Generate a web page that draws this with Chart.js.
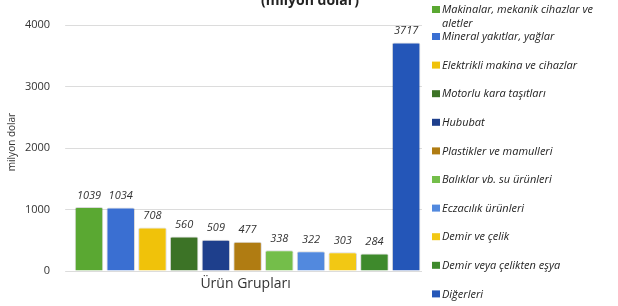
<!DOCTYPE html>
<html>
<head>
<meta charset="utf-8">
<script src="https://cdn.jsdelivr.net/npm/chart.js@4"></script>
<style>
  html, body { margin: 0; padding: 0; background: #fff; }
  #wrap { position: relative; width: 618px; height: 306px; }
</style>
</head>
<body>
<div id="wrap"><canvas id="chart" width="618" height="306"></canvas></div>
<script>
// DATA
const categories = [
  ["Makinalar, mekanik cihazlar ve", "aletler"],
  "Mineral yakıtlar, yağlar",
  "Elektrikli makina ve cihazlar",
  "Motorlu kara taşıtları",
  "Hububat",
  "Plastikler ve mamulleri",
  "Balıklar vb. su ürünleri",
  "Eczacılık ürünleri",
  "Demir ve çelik",
  "Demir veya çelikten eşya",
  "Diğerleri"
];
const values = [1039, 1034, 708, 560, 509, 477, 338, 322, 303, 284, 3717];
const yTicks = [0, 1000, 2000, 3000, 4000];
const barColors = [
  "#5aa832", "#3a6fd2", "#f0c20a", "#3c7326", "#1e3f8c", "#b07c12",
  "#74be4a", "#5289de", "#f2c814", "#3e8a2c", "#2456b8"
];

const FONT = "'Open Sans', 'DejaVu Sans', sans-serif";

// value labels above bars
const valueLabels = {
  id: "valueLabels",
  afterDatasetsDraw(chart) {
    const ctx = chart.ctx;
    const meta = chart.getDatasetMeta(0);
    ctx.save();
    ctx.font = "italic 11px " + FONT;
    ctx.fillStyle = "#333";
    ctx.textAlign = "center";
    ctx.textBaseline = "bottom";
    meta.data.forEach((bar, i) => {
      ctx.fillText(values[i], bar.x, bar.y - 6);
    });
    ctx.restore();
  }
};

// titles + right side legend
const sideLegend = {
  id: "sideLegend",
  afterDraw(chart) {
    const ctx = chart.ctx;
    const area = chart.chartArea;
    ctx.save();
    ctx.font = "bold 14px " + FONT;
    ctx.fillStyle = "#222";
    ctx.textAlign = "center";
    ctx.textBaseline = "alphabetic";
    ctx.fillText("(milyon dolar)", 310, 5);

    ctx.font = "14px " + FONT;
    ctx.fillStyle = "#333";
    ctx.textBaseline = "middle";
    ctx.fillText("Ürün Grupları", (area.left + area.right) / 2 - 2, 284);

    // y axis title
    ctx.save();
    ctx.translate(12, 142);
    ctx.rotate(-Math.PI / 2);
    ctx.font = "10px " + FONT;
    ctx.fillText("milyon dolar", 0, 0);
    ctx.restore();

    ctx.font = "italic 11px " + FONT;
    ctx.textAlign = "left";
    ctx.textBaseline = "middle";
    categories.forEach((c, i) => {
      const y = i === 0 ? 10 : 37 + (i - 1) * 28.6;
      ctx.fillStyle = barColors[i];
      ctx.fillRect(432, y - 4, 8, 7);
      ctx.fillStyle = "#222";
      const lines = Array.isArray(c) ? c : [c];
      lines.forEach((t, j) => ctx.fillText(t, 442, y + j * 14));
    });
    ctx.restore();
  }
};

new Chart(document.getElementById("chart"), {
  type: "bar",
  data: {
    labels: categories.map(c => Array.isArray(c) ? c.join(" ") : c),
    datasets: [{
      data: values,
      backgroundColor: barColors,
      borderColor: "rgba(0,0,0,0.15)",
      borderWidth: 1,
      borderRadius: 2,
      barPercentage: 0.9,
      categoryPercentage: 1
    }]
  },
  options: {
    responsive: false,
    animation: false,
    layout: { padding: { left: 10, right: 196, top: 25, bottom: 27 } },
    plugins: {
      legend: { display: false },
      tooltip: { enabled: false }
    },
    scales: {
      x: {
        grid: { display: false },
        border: { display: false },
        ticks: { display: false, padding: 0 }
      },
      y: {
        min: 0,
        max: 4000,
        afterBuildTicks: axis => { axis.ticks = yTicks.map(v => ({ value: v })); },
        grid: { color: "#dcdcdc", drawTicks: true, tickLength: 8 },
        border: { display: false },
        ticks: {
          color: "#333",
          font: { family: FONT, size: 11 },
          padding: 15,
          callback: v => String(v)
        }
      }
    }
  },
  plugins: [valueLabels, sideLegend]
});
</script>
</body>
</html>
